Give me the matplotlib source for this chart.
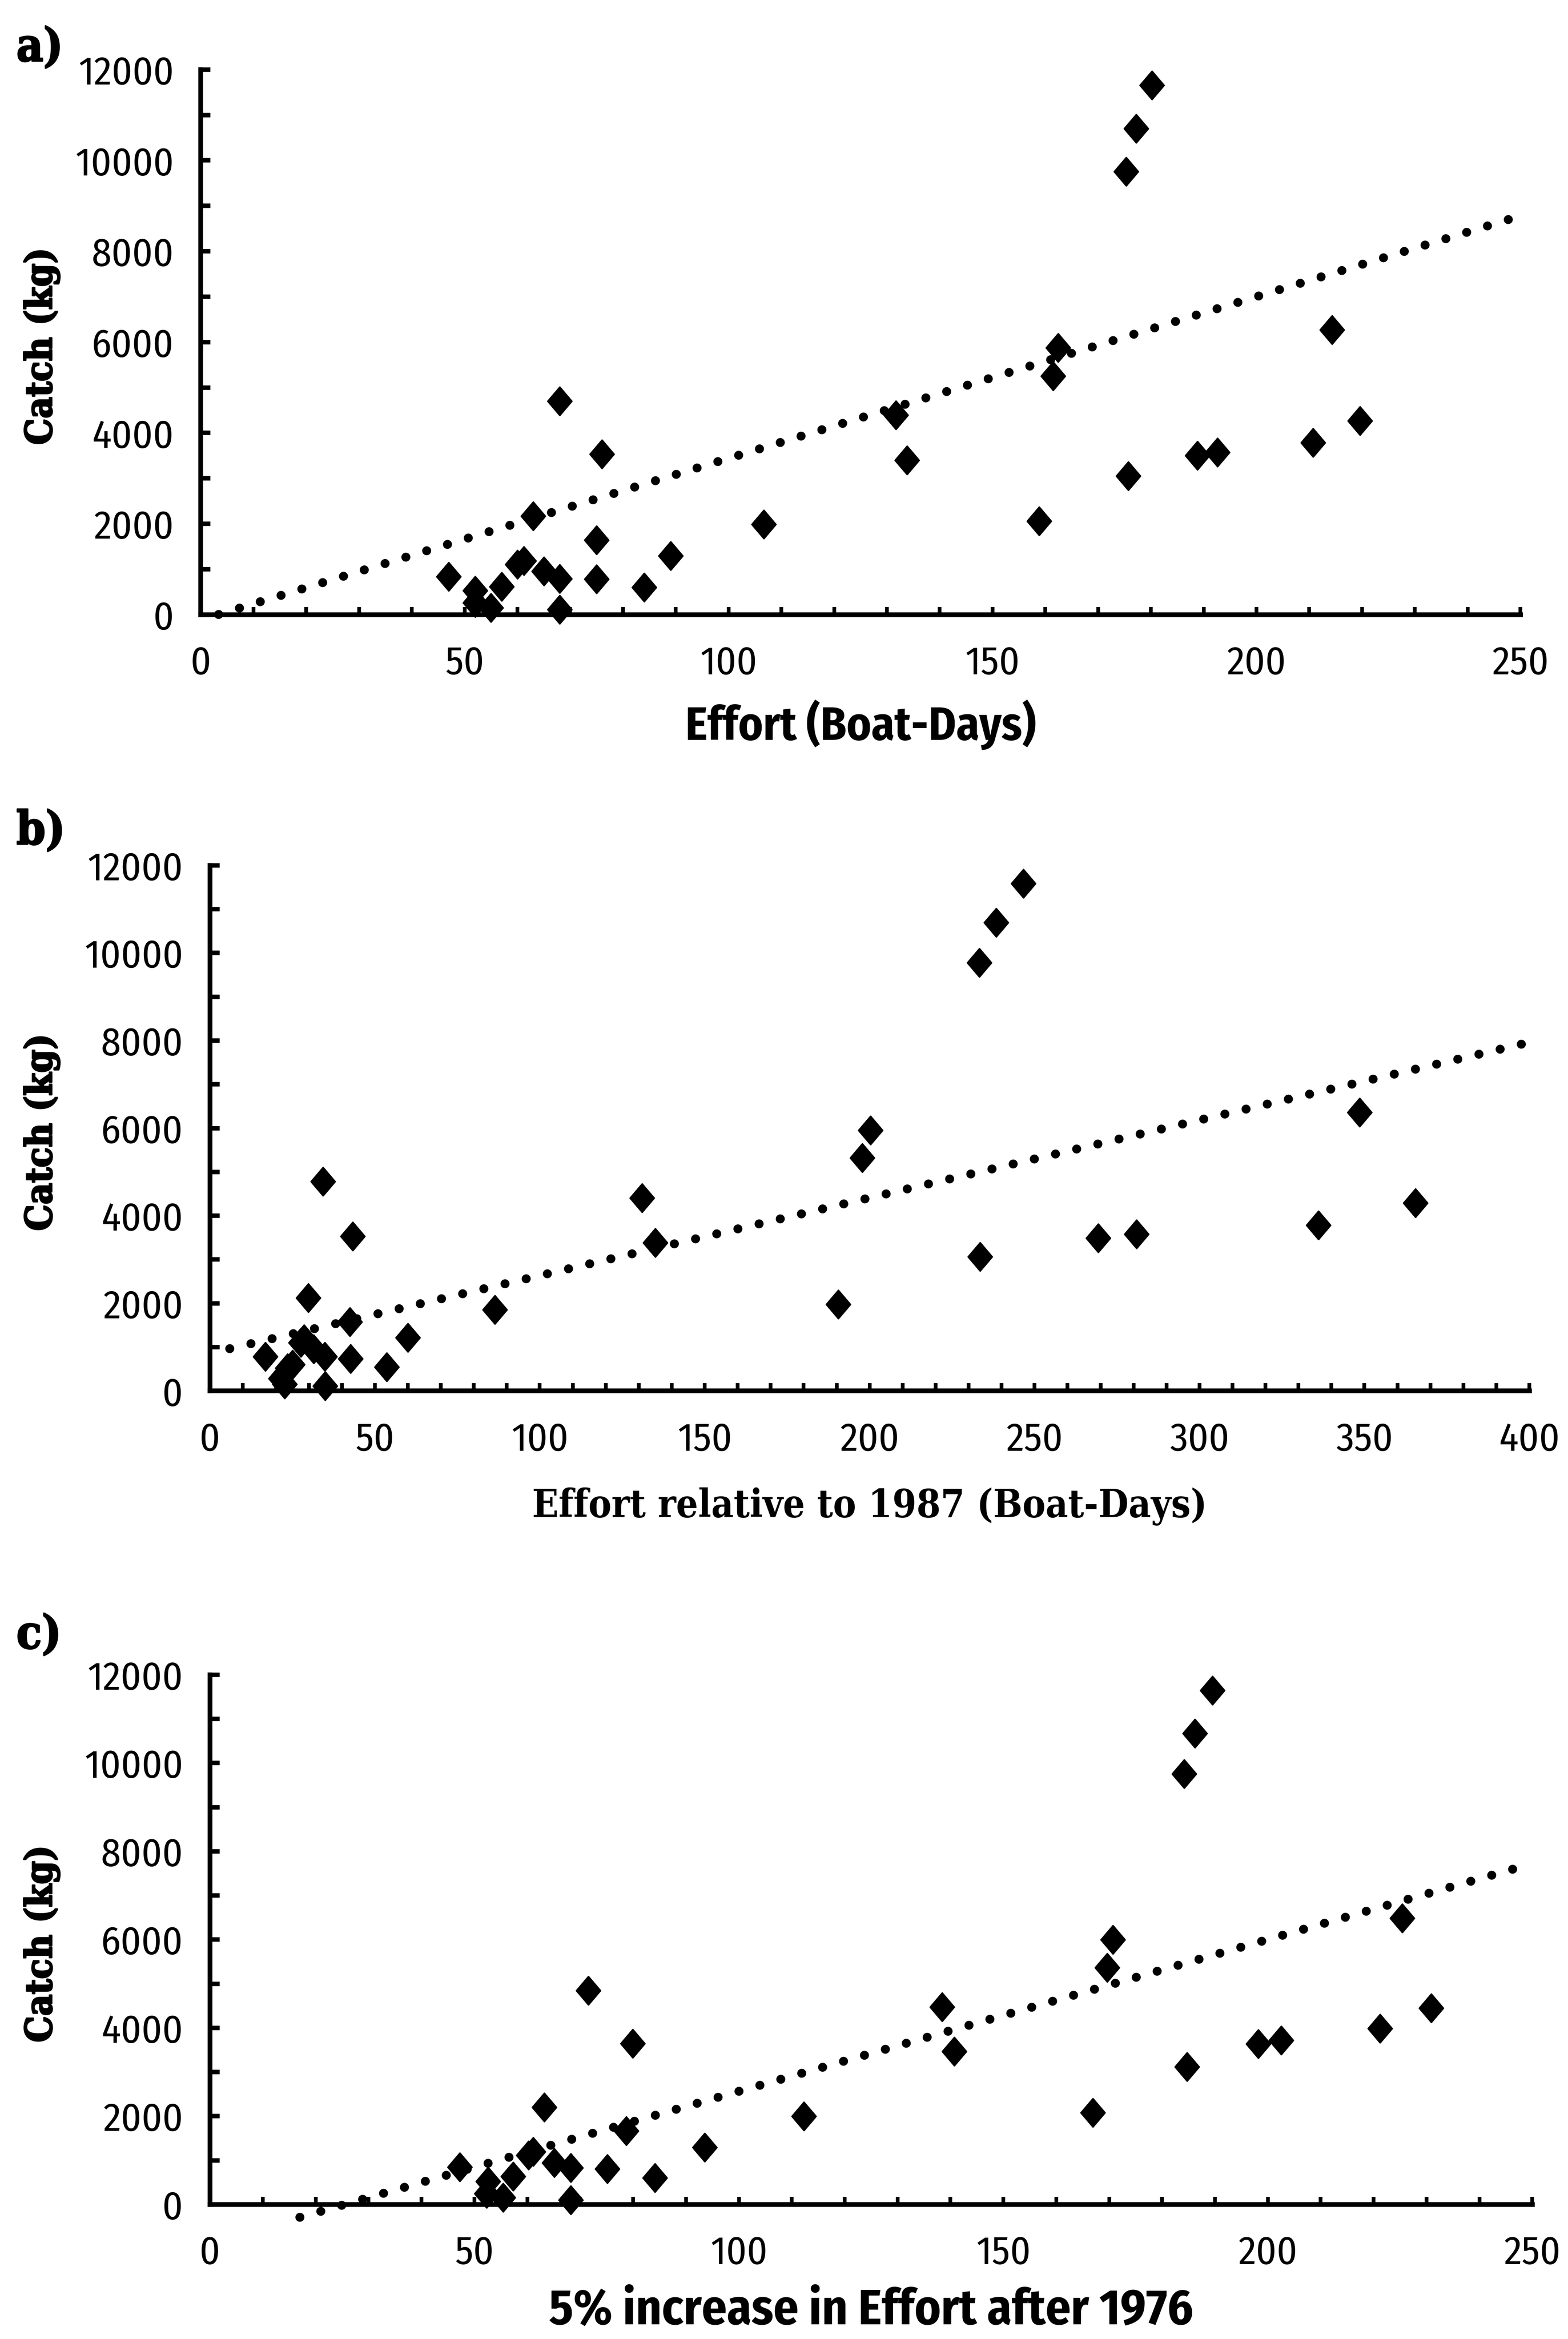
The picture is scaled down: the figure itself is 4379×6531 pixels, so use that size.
import matplotlib
matplotlib.use('Agg')
import matplotlib.pyplot as plt
import matplotlib.patheffects as pe
from matplotlib import font_manager
from matplotlib.font_manager import FontProperties
from matplotlib.path import Path
from matplotlib.ticker import MultipleLocator

# a) raw effort (boat-days) vs catch (kg)
effort_a = [47, 52, 52, 55, 57, 60, 61.2, 63, 65, 68, 68, 68, 75, 75, 76, 84, 89,
            106.7, 131.7, 133.8, 158.8, 161.5, 162.4, 175.3, 175.7, 177.2, 180.2,
            188.8, 192.6, 210.7, 214.3, 219.6]
catch_a = [830, 525, 260, 150, 610, 1100, 1180, 2170, 950, 790, 110, 4700, 1640, 780,
           3530, 600, 1290, 1983, 4388, 3395, 2054, 5246, 5868, 9754, 3047, 10700,
           11654, 3502, 3573, 3786, 6269, 4260]

# b) effort relative to 1987
effort_b = [16.8, 23.5, 21.5, 22.7, 25, 27.5, 28.5, 29.8, 31.5, 34.8, 34.9, 34.3, 42.4,
            42.6, 43.3, 53.6, 60, 86.4, 131.0, 135.0, 190.5, 197.8, 200.2, 233.3, 233.5,
            238.4, 246.6, 269.3, 280.9, 336.1, 348.5, 365.5]
catch_b = [780, 520, 280, 150, 600, 1100, 1180, 2120, 950, 780, 110, 4780, 1570, 730,
           3530, 540, 1210, 1850, 4403, 3382, 1971, 5320, 5950, 9773, 3062, 10690,
           11580, 3488, 3578, 3782, 6355, 4290]

# c) effort with a 5% yearly increase after 1976
effort_c = [47.2, 52.6, 52.3, 55.4, 57.3, 60.2, 61.1, 63.2, 65.1, 68.2, 68.2, 71.5, 78.7,
            75.1, 79.9, 84.1, 93.5, 112.3, 138.4, 140.7, 166.9, 169.6, 170.7, 184.2,
            184.7, 186.2, 189.5, 198.2, 202.5, 221.2, 225.4, 230.9]
catch_c = [840, 520, 240, 150, 630, 1110, 1190, 2200, 940, 825, 100, 4840, 1660, 800,
           3640, 600, 1290, 1993, 4467, 3461, 2075, 5364, 5997, 9752, 3117, 10670,
           11643, 3632, 3713, 3981, 6484, 4443]

# fitted lines (end points)
trend_a_x = [3.4, 250]
trend_a_y = [0, 8775]
trend_b_x = [6, 400]
trend_b_y = [962, 7955]
trend_c_x = [17, 250]
trend_c_y = [-295, 7718]

xlabels = ['Effort (Boat-Days)',
           'Effort relative to 1987 (Boat-Days)',
           '5% increase in Effort after 1976']
xmax = [250, 400, 250]


def pick_font(*names):
    for name in names:
        try:
            font_manager.findfont(FontProperties(family=name), fallback_to_default=False)
            return name
        except ValueError:
            pass
    return 'DejaVu Sans'


SANS = pick_font('Fira Sans Condensed', 'Barlow Condensed', 'DejaVu Sans')
SERIF = 'DejaVu Serif'
heavy = [pe.withStroke(linewidth=1.0, foreground='black')]

W, H = 1051.0, 1568.0          # layout grid the positions below are given in
PX = 4379.4 / W                # output pixels per grid unit


def fx(x):
    return x / W


def fy(y):
    return 1 - y / H


diamond = Path([(0, 1), (0.85, 0), (0, -1), (-0.85, 0), (0, 1)],
               [Path.MOVETO, Path.LINETO, Path.LINETO, Path.LINETO, Path.CLOSEPOLY])

fig = plt.figure(figsize=(4379.4 / 300, 6531.4 / 300), dpi=300)
fig.patch.set_facecolor('white')
renderer = fig.canvas.get_renderer()


def fit(txt, width):
    # scale a text so its drawn width is `width` grid units
    w = txt.get_window_extent(renderer).width
    txt.set_fontsize(txt.get_fontsize() * width * PX / w)
    return txt


# tick label size: "12000" is about 64 units wide
probe = fig.text(0, 0, '12000', family=SANS, fontsize=30)
TICK_SIZE = 30 * 64 * PX / probe.get_window_extent(renderer).width
probe.remove()

# (left, right, top, bottom) of each plot area
boxes = [(134.5, 1019, 46.6, 412), (140.7, 1025, 580, 932.4), (140.7, 1027, 1122.6, 1477.7)]
letter_y = [41, 566, 1105]
xlabel_y = [496, 1017, 1558]
xlabel_w = [235, 453, 432]
panels = [(effort_a, catch_a, trend_a_x, trend_a_y),
          (effort_b, catch_b, trend_b_x, trend_b_y),
          (effort_c, catch_c, trend_c_x, trend_c_y)]

for i, (ex, cy, tx, ty) in enumerate(panels):
    left, right, top, bottom = boxes[i]
    ax = fig.add_axes([fx(left), fy(bottom), fx(right) - fx(left), fy(top) - fy(bottom)])
    ax.plot(tx, ty, color='black', lw=6, linestyle=(0, (0.01, 2.42)),
            dash_capstyle='round', clip_on=False, zorder=2)
    ax.plot(ex, cy, linestyle='none', marker=diamond, ms=19, color='black',
            clip_on=False, zorder=3)

    ax.set_xlim(0, xmax[i])
    ax.set_ylim(0, 12000)
    ax.xaxis.set_major_locator(MultipleLocator(50))
    ax.xaxis.set_minor_locator(MultipleLocator(10))
    ax.yaxis.set_major_locator(MultipleLocator(2000))
    ax.yaxis.set_minor_locator(MultipleLocator(1000))
    ax.tick_params(axis='x', which='both', direction='in', length=5, width=2.5,
                   pad=20, labelsize=TICK_SIZE, labelfontfamily=SANS)
    ax.tick_params(axis='y', which='both', direction='in', length=6.5, width=3,
                   pad=18, labelsize=TICK_SIZE, labelfontfamily=SANS)
    for side in ['top', 'right']:
        ax.spines[side].set_visible(False)
    for side in ['left', 'bottom']:
        ax.spines[side].set_linewidth(3.2)
    ax.set_facecolor('none')

    # panel letter, y label and x label
    fig.text(fx(11), fy(letter_y[i]), 'abc'[i] + ')', ha='left', va='baseline',
             family=SERIF, fontweight='bold', fontstretch='condensed', fontsize=31,
             path_effects=heavy)
    ylab = fig.text(fx(28), fy((top + bottom) / 2 + 3), 'Catch (kg)', rotation=90,
                    ha='center', va='center', family=SERIF, fontweight='bold',
                    fontstretch='condensed', fontsize=28, path_effects=heavy)
    ylab.set_fontsize(28 * 132 * PX / ylab.get_window_extent(renderer).height)
    if i == 1:
        xl = fig.text(fx((left + right) / 2), fy(xlabel_y[i]), xlabels[i], ha='center',
                      va='baseline', family=SERIF, fontweight='bold',
                      fontstretch='condensed', fontsize=28)
    else:
        xl = fig.text(fx((left + right) / 2), fy(xlabel_y[i]), xlabels[i], ha='center',
                      va='baseline', family=SANS, fontweight='bold', fontsize=30)
    fit(xl, xlabel_w[i])

fig.savefig('out.png', dpi=300, facecolor='white')
